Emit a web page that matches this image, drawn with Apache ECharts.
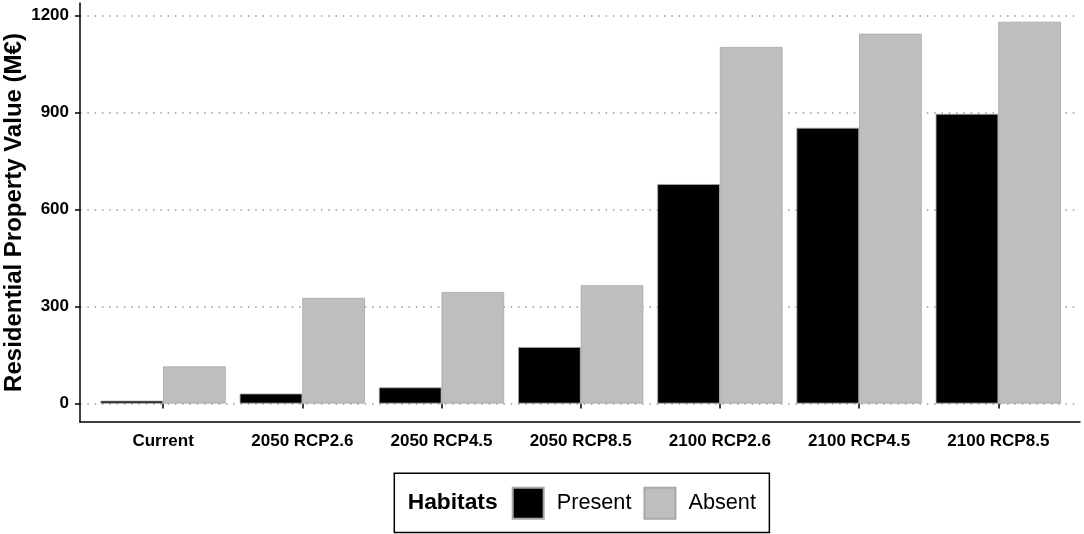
<!DOCTYPE html>
<html><head><meta charset="utf-8">
<script src="https://cdn.jsdelivr.net/npm/echarts@6/dist/echarts.min.js"></script>
<style>html,body{margin:0;padding:0;background:#fff}#c{width:1084px;height:534px}</style>
</head><body><div id="c"></div>
<script>
const categories = ['Current','2050 RCP2.6','2050 RCP4.5','2050 RCP8.5','2100 RCP2.6','2100 RCP4.5','2100 RCP8.5'];
const presentValues = [9, 31, 50, 175, 679, 853, 896];
const absentValues = [115, 327, 345, 366, 1103, 1144, 1181];
const yTicks = [0, 300, 600, 900, 1200];
const seriesNames = ['Present', 'Absent'];
const legendTitle = 'Habitats';
const yTitle = 'Residential Property Value (M\u20AC)';

const FONT = '"Liberation Sans", Arial, sans-serif';
const Y_MIN = -57, Y_MAX = 1239;

const chart = echarts.init(document.getElementById('c'), null, {renderer: 'canvas'});
chart.setOption({
  animation: false,
  backgroundColor: '#fff',
  grid: [
    {left: 80, right: 4, top: 3, bottom: 112, containLabel: false, outerBoundsMode: 'none'},
    {left: 93.5, right: 16.1, top: 3, bottom: 112, containLabel: false, outerBoundsMode: 'none'}
  ],
  xAxis: [
    {gridIndex: 0, type: 'value', min: 0, max: 1,
      axisLine: {show: true, onZero: false, lineStyle: {color: '#000', width: 1.5}},
      axisTick: {show: false}, axisLabel: {show: false}, splitLine: {show: false}},
    {gridIndex: 1, type: 'category', data: categories,
      axisLine: {show: false},
      axisTick: {show: true, alignWithLabel: true, length: 5, lineStyle: {color: '#000', width: 1.5}},
      axisLabel: {margin: 11, fontFamily: FONT, fontSize: 17, fontWeight: 'bold', color: '#000'},
      splitLine: {show: false}}
  ],
  yAxis: [
    {gridIndex: 0, type: 'value', min: Y_MIN, max: Y_MAX,
      name: yTitle, nameLocation: 'middle', nameRotate: 90, nameGap: 54, nameMoveOverlap: false,
      nameTextStyle: {fontFamily: FONT, fontSize: 24, fontWeight: 'bold', color: '#000'},
      axisLine: {show: true, onZero: false, lineStyle: {color: '#000', width: 1.5}},
      axisTick: {show: true, length: 5, customValues: yTicks, lineStyle: {color: '#000', width: 1.5}},
      axisLabel: {customValues: yTicks, margin: 11, formatter: v => String(v),
        fontFamily: FONT, fontSize: 17, fontWeight: 'bold', color: '#000'},
      splitLine: {show: true, showMinLine: true, showMaxLine: true,
        lineStyle: {color: '#999999', width: 1.5, type: [1.5, 5.8]}}},
    {gridIndex: 1, type: 'value', min: Y_MIN, max: Y_MAX, show: false,
      axisLine: {show: false}, axisTick: {show: false}, axisLabel: {show: false}, splitLine: {show: false}}
  ],
  legend: {
    data: seriesNames, selectedMode: false, orient: 'horizontal',
    left: 394.3, top: 473.3,
    padding: [13.4, 13.4, 12.7, 117.4],
    borderColor: '#000', borderWidth: 1.5,
    icon: 'rect', itemWidth: 31, itemHeight: 31, itemGap: 12,
    textStyle: {fontFamily: FONT, fontSize: 21.7, color: '#000', padding: [0, 0, 0, 8]}
  },
  graphic: [
    {type: 'text', left: 407.7, top: 491.5,
      style: {text: legendTitle, font: 'bold 22.8px ' + FONT, fill: '#000'}}
  ],
  series: [
    {name: seriesNames[0], type: 'bar', xAxisIndex: 1, yAxisIndex: 1, data: presentValues,
      barGap: '0%', barCategoryGap: '10%',
      itemStyle: {color: '#000000', borderColor: '#a8a8a8', borderWidth: 0.8}},
    {name: seriesNames[1], type: 'bar', xAxisIndex: 1, yAxisIndex: 1, data: absentValues,
      barGap: '0%', barCategoryGap: '10%',
      itemStyle: {color: '#bebebe', borderColor: '#a8a8a8', borderWidth: 0.8}}
  ]
});
</script></body></html>
